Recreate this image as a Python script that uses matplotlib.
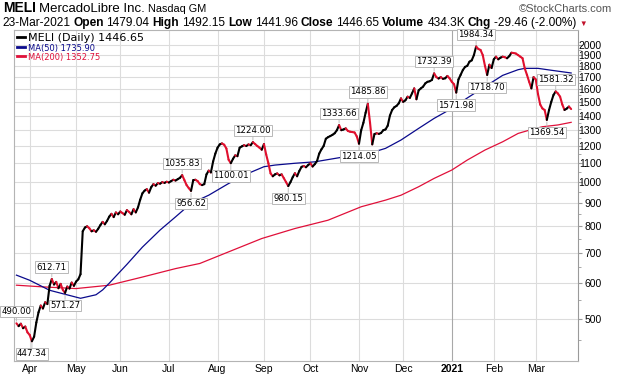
import matplotlib
matplotlib.use("Agg")
import matplotlib.pyplot as plt
from matplotlib.collections import LineCollection
from matplotlib.lines import Line2D
from matplotlib.transforms import IdentityTransform
import numpy as np
import pandas as pd

# daily closes, 24-Mar-2020 .. 23-Mar-2021
close = [
    490.00, 483, 489, 478, 482, 468, 462, 447.34, 458, 492,
    518, 536, 528, 545, 540, 592, 612.71, 596, 604, 585,
    598, 580, 571.27, 590, 584, 602, 592, 605, 612, 628,
    780, 795, 800, 792, 780, 784, 778, 790, 805, 818,
    808, 822, 840, 852, 838, 858, 850, 862, 855, 848,
    868, 860, 850, 872, 858, 880, 915, 945, 958, 965,
    948, 975, 990, 982, 995, 992, 1000, 996, 1002, 998,
    1005, 1012, 1008, 1015, 1022, 1035.83, 1010, 985, 970, 956.62,
    1010, 1012, 1005, 990, 985, 990, 1040, 1060, 1050, 1110,
    1155, 1190, 1210, 1216, 1208, 1185, 1120, 1100.01, 1125, 1145,
    1140, 1190, 1198, 1205, 1200, 1210, 1205, 1224.00, 1212, 1200,
    1190, 1178, 1212, 1150, 1100, 1045, 1030, 1040, 1045, 1035,
    1040, 1020, 1000, 980.15, 1000, 1025, 1046, 1030, 1058, 1080,
    1085, 1078, 1090, 1100, 1082, 1095, 1112, 1155, 1180, 1200,
    1245, 1255, 1262, 1270, 1280, 1300, 1333.66, 1300, 1305, 1312,
    1295, 1290, 1288, 1285, 1260, 1214.05, 1300, 1350, 1420, 1485.86,
    1350, 1210, 1275, 1280, 1276, 1282, 1300, 1305, 1330, 1400,
    1440, 1460, 1470, 1489, 1527, 1500, 1512, 1540, 1530, 1566,
    1606, 1520, 1590, 1606, 1620, 1647, 1660, 1665, 1676, 1732.39,
    1700, 1688, 1700, 1685, 1690, 1710, 1690, 1660, 1640, 1571.98,
    1680, 1720, 1762, 1790, 1800, 1838, 1850, 1900, 1984.34, 1960,
    1950, 1900, 1800, 1718.70, 1810, 1780, 1860, 1885, 1860, 1875,
    1885, 1880, 1870, 1890, 1923, 1920, 1915, 1900, 1885, 1870,
    1777, 1720, 1660, 1606, 1700, 1680, 1560, 1480, 1451, 1440,
    1369.54, 1440, 1500, 1553, 1581.32, 1565, 1540, 1480, 1440, 1450,
    1465, 1446.65,
]

# moving averages, read at a few trading-day positions
ma50_idx = [0, 6, 15, 21, 29, 36, 39, 42, 50, 57, 65, 72, 79, 87, 96, 103, 112, 117,
            126, 135, 144, 153, 162, 167, 174, 182, 189, 197, 204, 212, 220, 227, 230,
            236, 242, 251]
ma50 = [625, 609, 579, 569, 556, 566, 580, 600, 660, 720, 785, 839, 898, 936, 993, 1036,
        1081, 1090, 1100, 1108, 1127, 1146, 1166, 1186, 1237, 1312, 1380, 1451, 1530,
        1620, 1715, 1765, 1777, 1777, 1760, 1735.90]

ma200_idx = [0, 12, 27, 42, 57, 72, 83, 96, 111, 126, 141, 156, 167, 174, 182, 189, 197,
             204, 212, 220, 227, 232, 238, 245, 251]
ma200 = [594, 589, 584, 594, 619, 646, 663, 703, 752, 791, 825, 883, 913, 936, 977, 1019,
         1063, 1118, 1176, 1226, 1279, 1300, 1323, 1335, 1352.75]

# labelled highs / lows: (day index, above?)
peaks = [(0, True), (7, False), (16, True), (22, False), (75, True), (79, False),
         (97, False), (107, True), (123, False), (146, True), (155, False), (159, True),
         (189, True), (199, False), (208, True), (213, False), (240, False), (244, True)]

holidays = ["2020-04-10", "2020-05-25", "2020-07-03", "2020-09-07", "2020-11-26",
            "2020-12-25", "2021-01-01", "2021-01-18", "2021-02-15"]
month_names = ["Apr", "May", "Jun", "Jul", "Aug", "Sep", "Oct", "Nov", "Dec", "2021", "Feb", "Mar"]
y_ticks = [500, 600, 700, 800, 900, 1000, 1100, 1200, 1300, 1400, 1500, 1600, 1700, 1800,
           1900, 2000]

days = pd.bdate_range("2020-03-24", "2021-03-23")
days = days[~days.isin(pd.to_datetime(holidays))][:len(close)]
x = np.arange(len(close))
month_pos = [i for i in range(1, len(days)) if days[i].month != days[i - 1].month]

W, H = 620, 376
fig = plt.figure(figsize=(W / 100, H / 100), dpi=100)
ax = fig.add_axes([14 / W, 15 / H, 564 / W, 331 / H])

grid_c = "#dcdcdc"
ax.set_yscale("log")
ax.set_ylim(405, 2157)
ax.set_xlim(-1.1, 254.1)

for v in y_ticks:
    ax.axhline(v, color=grid_c, lw=0.8, zorder=0)
for p, name in zip(month_pos, month_names):
    ax.axvline(p, color="#a8a8a8" if name == "2021" else grid_c, lw=0.8, zorder=0)

ax.plot(ma200_idx, ma200, color="#e0103a", lw=0.9, zorder=2)
ax.plot(ma50_idx, ma50, color="#0a0a8c", lw=0.9, zorder=2)

pts = np.column_stack([x, close])
segs = np.stack([pts[:-1], pts[1:]], axis=1)
cols = ["#000000" if close[i + 1] >= close[i] else "#e0102e" for i in range(len(close) - 1)]
ax.add_collection(LineCollection(segs, colors=cols, linewidths=1.5, zorder=3,
                                 capstyle="round", joinstyle="round"))

for i, above in peaks:
    off = 8.5 if above else -9
    ax.annotate(f"{close[i]:.2f}", (i, close[i]), xytext=(0, off), textcoords="offset points",
                ha="center", va="center", fontsize=6.2, family="DejaVu Sans", zorder=5,
                annotation_clip=False,
                bbox=dict(boxstyle="square,pad=0.15", fc="white", ec="#b8b8b8", lw=0.7),
                arrowprops=dict(arrowstyle="-", color="#c0c0c0", lw=0.7, shrinkA=0, shrinkB=1.5))

# axes cosmetics
for s in ax.spines.values():
    s.set_color("#b4b4b4")
    s.set_linewidth(0.8)
ax.spines["right"].set_color("#9a9a9a")

ax.yaxis.tick_right()
ax.set_yticks(y_ticks)
ax.set_yticklabels([str(v) for v in y_ticks])
ax.set_yticks([v + 50 for v in range(400, 2000, 100)], minor=True)
ax.yaxis.set_minor_formatter(plt.NullFormatter())
ax.tick_params(axis="y", which="major", length=3, color="#9a9a9a", pad=14, labelsize=7.5)
ax.tick_params(axis="y", which="minor", length=2, color="#9a9a9a")
for lab in ax.get_yticklabels():
    lab.set_horizontalalignment("right")
    lab.set_family("Liberation Sans")

ax.set_xticks(month_pos)
ax.set_xticklabels(month_names)
ax.tick_params(axis="x", length=0, pad=2, labelsize=7.5)
for lab in ax.get_xticklabels():
    lab.set_family("Liberation Sans")
    if lab.get_text() == "2021":
        lab.set_fontweight("bold")

handles = [Line2D([], [], color="black", lw=2), Line2D([], [], color="#0a0a8c", lw=2),
           Line2D([], [], color="#e0103a", lw=2)]
leg = ax.legend(handles, ["MELI (Daily) 1446.65", "MA(50) 1735.90", "MA(200) 1352.75"],
                loc="upper left", frameon=False, fontsize=8, handlelength=0.7,
                handletextpad=0.3, labelspacing=0.0, borderpad=0.05, borderaxespad=0.2,
                labelcolor="linecolor")
for t in leg.get_texts()[1:]:
    t.set_fontsize(6.0)

# header lines
rend = fig.canvas.get_renderer()


def chain(x0, y0, parts, gap=3):
    xx = x0
    for s, weight, size, color in parts:
        t = fig.text(xx, H - y0, s, transform=IdentityTransform(), fontsize=size,
                     fontweight=weight, color=color, family=["Liberation Sans", "DejaVu Sans"],
                     va="baseline")
        xx = t.get_window_extent(rend).x1 + gap


chain(3, 12, [("MELI", "bold", 10, "black"), ("MercadoLibre Inc.", "normal", 9.5, "black"),
              ("Nasdaq GM", "normal", 7.8, "black")])
hs = 8.6
chain(2, 26, [("23-Mar-2021", "normal", hs, "black"), ("Open", "bold", hs, "black"),
              ("1479.04", "normal", hs, "black"), ("High", "bold", hs, "black"),
              ("1492.15", "normal", hs, "black"), ("Low", "bold", hs, "black"),
              ("1441.96", "normal", hs, "black"), ("Close", "bold", hs, "black"),
              ("1446.65", "normal", hs, "black"), ("Volume", "bold", hs, "black"),
              ("434.3K", "normal", hs, "black"), ("Chg", "bold", hs, "black"),
              ("-29.46 (-2.00%)", "normal", hs, "black"), ("\u25bc", "normal", 5.5, "#c0102a")])
fig.text(612, H - 12, "\u00a9StockCharts.com", transform=IdentityTransform(), fontsize=8,
         color="#555555", ha="right", va="baseline", family="Liberation Sans")

fig.savefig("out.png", dpi=100)
